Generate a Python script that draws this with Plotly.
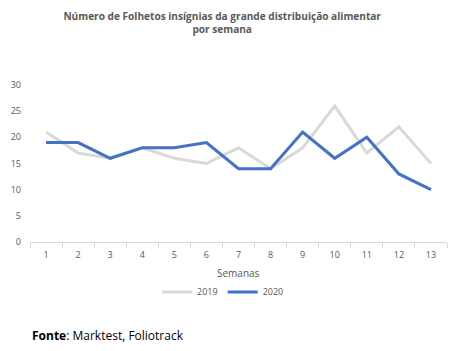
import plotly.graph_objects as go

semanas = list(range(1, 14))
v2019 = [21, 17, 16, 18, 16, 15, 18, 14, 18, 26, 17, 22, 15]
v2020 = [19, 19, 16, 18, 18, 19, 14, 14, 21, 16, 20, 13, 10]

FONT = "Open Sans"
GRAY = "#595959"

fig = go.Figure()
fig.add_trace(go.Scatter(x=semanas, y=v2019, mode="lines", name="2019",
                         line=dict(color="#D9D9D9", width=3)))
fig.add_trace(go.Scatter(x=semanas, y=v2020, mode="lines", name="2020",
                         line=dict(color="#4472C4", width=3)))

fig.update_layout(
    width=460, height=351,
    margin=dict(l=30, r=13, t=85, b=109),
    paper_bgcolor="white", plot_bgcolor="white",
    font=dict(family=FONT, color=GRAY, size=9),
    title=dict(text="<b>Número de Folhetos insígnias da grande distribuição alimentar<br>por semana</b>",
               x=0.483, xanchor="center", y=0.942, yanchor="top",
               font=dict(family=FONT, size=10.1, color=GRAY)),
    showlegend=True,
    legend=dict(orientation="h", x=0.463, xanchor="center", y=-0.318, yanchor="middle",
                font=dict(size=9, color=GRAY), itemwidth=30, tracegroupgap=0),
)
fig.update_xaxes(range=[0.5, 13.5], tickvals=semanas, ticks="", showgrid=False,
                 showline=True, linecolor="#D9D9D9", linewidth=1, zeroline=False,
                 minor=dict(tick0=0.5, dtick=1, ticks="outside", ticklen=5, tickcolor="#D9D9D9", showgrid=False),
                 tickfont=dict(size=9, color=GRAY), ticklabelstandoff=4)
fig.update_yaxes(range=[0, 30], dtick=5, showgrid=False, showline=False, zeroline=False,
                 ticks="", tickfont=dict(size=9, color=GRAY), ticklabelstandoff=8)

fig.add_annotation(text="Semanas", xref="paper", yref="paper", x=0.5, y=-31/157,
                   xanchor="center", yanchor="middle", showarrow=False,
                   font=dict(size=10, color=GRAY))
fig.add_annotation(text="<b>Fonte</b>: Marktest, Foliotrack", xref="paper", yref="paper",
                   x=-0.0, y=-93/157, xanchor="left", yanchor="middle", showarrow=False,
                   font=dict(size=12, color="black"))

fig.write_html("out.html")
